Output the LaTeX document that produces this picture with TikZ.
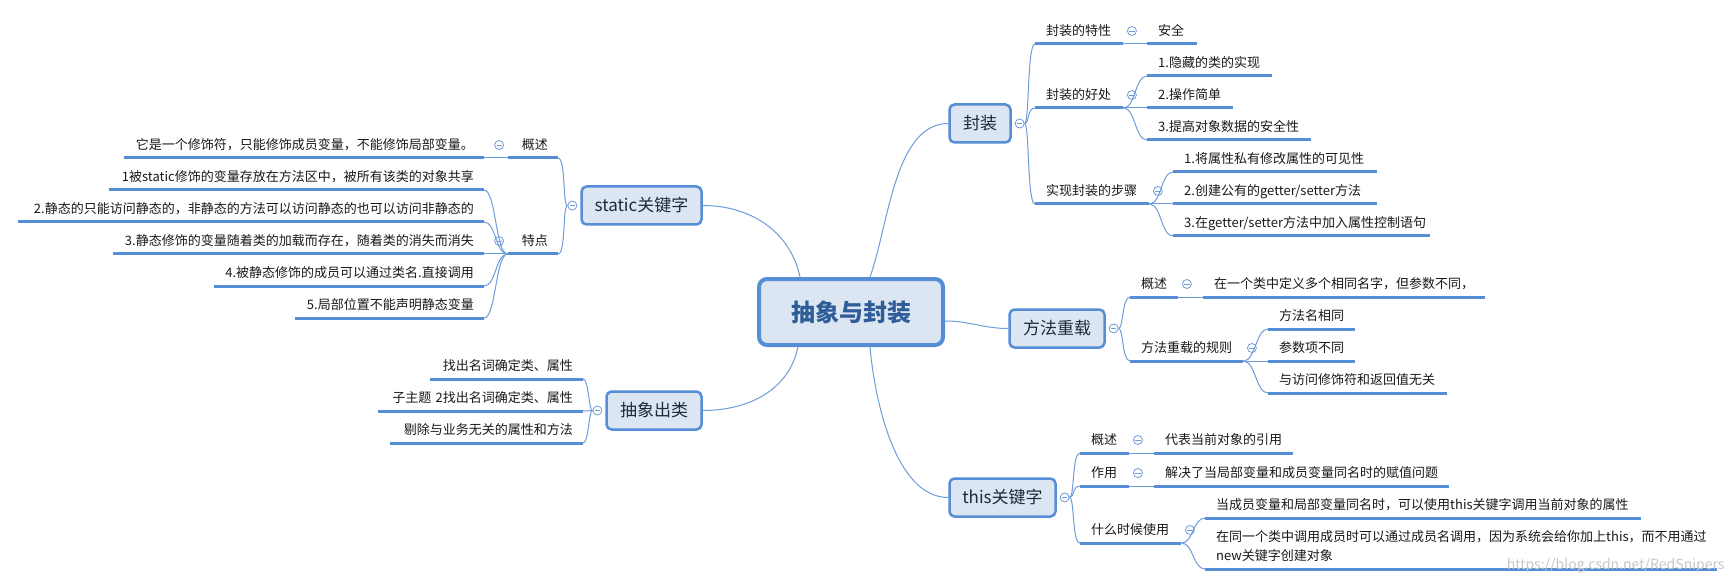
\documentclass[tikz,border=0pt]{standalone}
\usepackage{fontspec}
\setmainfont{Noto Sans CJK SC}
\usetikzlibrary{positioning}
\definecolor{mmblue}{HTML}{558ED5}
\definecolor{mmfill}{HTML}{DCE6F2}
\definecolor{mmline}{HTML}{6E9CDB}
\definecolor{mmtext}{HTML}{1D2A3C}
\definecolor{mmroot}{HTML}{2F5D98}
\definecolor{mmgray}{HTML}{C4C8CC}

\tikzset{
  topic/.style={draw=mmblue, fill=mmfill, line width=2.5pt, rounded corners=5pt,
    minimum height=38pt, inner sep=0pt, text=mmtext, font=\fontsize{17}{20}\selectfont},
  minus/.style={circle, draw=mmline, fill=white, line width=0.8pt, minimum size=9pt, inner sep=0pt,
    path picture={\draw[mmline, line width=0.8pt]
      ([xshift=-2.6pt]path picture bounding box.center) -- ([xshift=2.6pt]path picture bounding box.center);}},
  lbl/.style={inner ysep=5pt, text height=10pt, text depth=3pt, text=black!90,
    font=\fontsize{13}{19}\selectfont},
  rlbl/.style={lbl, anchor=south west, inner xsep=11pt, text width=#1pt-22pt, align=left},
  llbl/.style={lbl, anchor=south east, inner xsep=10pt, text width=#1pt-20pt, align=right},
  uline/.style={mmblue, line width=3pt},
  branch/.style={mmline, line width=1pt},
}

\begin{document}
\begin{tikzpicture}[x=1pt, y=-1pt]

% Canvas
\fill[white] (0,0) rectangle (1736,585);
\useasboundingbox (0,0) rectangle (1736,585);

% ============================================================
% Central topic and main topics
% ============================================================
\node[draw=mmblue, fill=mmfill, line width=4pt, rounded corners=8pt, minimum width=184pt, minimum height=66pt,
  text=mmroot, font=\fontsize{24}{28}\selectfont\bfseries] (root) at (851,312) {抽象与封装};

\node[topic, minimum width=61pt] (fz) at (980,123.5) {封装};
\node[topic, minimum width=95pt] (fc) at (1057,328.5) {方法重载};
\node[topic, minimum width=106pt] (th) at (1002.5,497.5) {this关键字};
\node[topic, minimum width=120pt] (st) at (641.5,205.5) {static关键字};
\node[topic, minimum width=95pt] (cx) at (654,410.5) {抽象出类};

\node[minus, right=3pt of fz] (fzm) {};
\node[minus, right=3pt of fc] (fcm) {};
\node[minus, right=3pt of th] (thm) {};
\node[minus, left=3pt of st] (stm) {};
\node[minus, left=3pt of cx] (cxm) {};

% Main curves
\draw[branch] ([xshift=19pt]root.north) to[out=70, in=180, looseness=0.8] (fz.west);
\draw[branch] ([xshift=-51pt]root.north) to[out=102, in=0] (st.east);
\draw[branch] ([xshift=-53pt]root.south) to[out=-102, in=0] (cx.east);
\draw[branch] ([xshift=19pt]root.south) to[out=-85, in=180, looseness=0.8] (th.west);
\draw[branch] ([yshift=-9pt]root.east) to[out=0, in=180] (fc.west);

% ============================================================
% Right side labels (underlined)
% ============================================================
\foreach \n/\x/\y/\w/\t in {fz1/1035/44/88/封装的特性, fz2/1035/108/88/封装的好处, fz3/1035/204/114/实现封装的步骤,
  fz1a/1147/44/50/安全, fz2a/1147/76/125/1.隐藏的类的实现, fz2b/1147/108/86/2.操作简单,
  fz2c/1147/140/164/3.提高对象数据的安全性, fz3a/1173/172/204/1.将属性私有修改属性的可见性,
  fz3b/1173/204/204/{2.创建公有的getter/setter方法}, fz3c/1173/236/257/{3.在getter/setter方法中加入属性控制语句},
  fc1/1130/297/48/概述, fc2/1130/361/113/方法重载的规则, fc1a/1203/297/282/在一个类中定义多个相同名字，但参数不同，,
  fc2a/1268/329/87/方法名相同, fc2b/1268/361/87/参数项不同, fc2c/1268/393/179/与访问修饰符和返回值无关,
  th1/1080/453/49/概述, th2/1080/486/49/作用, th3/1080/543/101/什么时候使用,
  th1a/1154/453/139/代表当前对象的引用, th2a/1154/486/295/解决了当局部变量和成员变量同名时的赋值问题,
  th3a/1205/518/436/当成员变量和局部变量同名时，可以使用this关键字调用当前对象的属性} {
  \node[rlbl=\w] (\n) at (\x,\y) {\t};
  \draw[uline] (\n.south west) -- (\n.south east);
}
% two-line leaf
\node[rlbl=512, text depth=22pt] (th3b) at (1205,569)
  {在同一个类中调用成员时可以通过成员名调用，因为系统会给你加上this，而不用通过\\new关键字创建对象};
\draw[uline] (th3b.south west) -- (th3b.south east);

% ============================================================
% Left side labels (underlined)
% ============================================================
\foreach \n/\x/\y/\w/\t in {st1/558/158/50/概述, st2/558/254/50/特点,
  st1a/484/158/360/它是一个修饰符，只能修饰成员变量，不能修饰局部变量。,
  st2a/484/190/375/1被static修饰的变量存放在方法区中，被所有该类的对象共享,
  st2b/484/222/466/2.静态的只能访问静态的，非静态的方法可以访问静态的也可以访问非静态的,
  st2c/484/254/371/3.静态修饰的变量随着类的加载而存在，随着类的消失而消失,
  st2d/484/286/270/4.被静态修饰的成员可以通过类名.直接调用,
  st2e/484/318/189/5.局部位置不能声明静态变量,
  cx1/583/379/153/找出名词确定类、属性, cx2/583/411/205/子主题~2找出名词确定类、属性,
  cx3/583/443/193/剔除与业务无关的属性和方法} {
  \node[llbl=\w] (\n) at (\x,\y) {\t};
  \draw[uline] (\n.south west) -- (\n.south east);
}

% Collapse marks on sub topics
\foreach \n in {fz1, fz2, fz3, fc1, fc2, th1, th2, th3}
  \node[minus] (\n-m) at ([shift={(8.5pt,13pt)}]\n.south east) {};
\foreach \n in {st1, st2}
  \node[minus] (\n-m) at ([shift={(-8.5pt,13pt)}]\n.south west) {};

% ============================================================
% Branch connectors
% ============================================================
% 封装
\foreach \n in {fz1, fz2, fz3}
  \draw[branch] (fzm.east) .. controls +(5pt,0pt) and +(-8pt,0pt) .. (\n.south west);
\draw[branch] (fz1.south east) -- (fz1a.south west);
\foreach \n in {fz2a, fz2b, fz2c}
  \draw[branch] (fz2.south east) .. controls +(12pt,0pt) and +(-12pt,0pt) .. (\n.south west);
\foreach \n in {fz3a, fz3b, fz3c}
  \draw[branch] (fz3.south east) .. controls +(12pt,0pt) and +(-12pt,0pt) .. (\n.south west);

% 方法重载
\foreach \n in {fc1, fc2}
  \draw[branch] (fcm.east) .. controls +(5pt,0pt) and +(-8pt,0pt) .. (\n.south west);
\draw[branch] (fc1.south east) -- (fc1a.south west);
\foreach \n in {fc2a, fc2b, fc2c}
  \draw[branch] (fc2.south east) .. controls +(12pt,0pt) and +(-12pt,0pt) .. (\n.south west);

% this关键字
\foreach \n in {th1, th2, th3}
  \draw[branch] (thm.east) .. controls +(5pt,0pt) and +(-8pt,0pt) .. (\n.south west);
\draw[branch] (th1.south east) -- (th1a.south west);
\draw[branch] (th2.south east) -- (th2a.south west);
\foreach \n in {th3a, th3b}
  \draw[branch] (th3.south east) .. controls +(12pt,0pt) and +(-12pt,0pt) .. (\n.south west);

% static关键字
\foreach \n in {st1, st2}
  \draw[branch] (stm.west) .. controls +(-5pt,0pt) and +(8pt,0pt) .. (\n.south east);
\draw[branch] (st1.south west) -- (st1a.south east);
\foreach \n in {st2a, st2b, st2c, st2d, st2e}
  \draw[branch] (st2.south west) .. controls +(-12pt,0pt) and +(12pt,0pt) .. (\n.south east);

% 抽象出类
\foreach \n in {cx1, cx2, cx3}
  \draw[branch] (cxm.west) .. controls +(-4pt,0pt) and +(6pt,0pt) .. (\n.south east);

% Watermark
\node[text=mmgray, font=\fontsize{14}{16}\selectfont, anchor=east] (wmark) at (1728,566) {https://blog.csdn.net/RedSnipers};

\end{tikzpicture}
\end{document}
